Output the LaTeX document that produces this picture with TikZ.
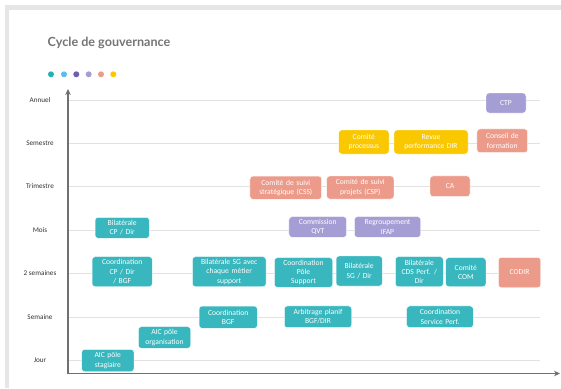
\documentclass[tikz,border=0pt]{standalone}
\usepackage{fontspec}
\setmainfont{Carlito}
\newfontfamily\titlefont{Lato}
\usetikzlibrary{arrows.meta}
\definecolor{frame}{HTML}{E6E6E6}
\definecolor{axisc}{HTML}{707070}
\definecolor{gridc}{HTML}{E2E2E2}
\definecolor{teal1}{HTML}{38B7BE}
\definecolor{salmon1}{HTML}{EC9B8A}
\definecolor{lav1}{HTML}{A59ED5}
\definecolor{yel1}{HTML}{FAC800}
\definecolor{dotteal}{HTML}{23B2B2}
\definecolor{dotblue}{HTML}{5BBDE8}
\definecolor{dotpurple}{HTML}{6F5DB0}
\definecolor{titlec}{HTML}{757575}
\definecolor{labc}{HTML}{333333}
\tikzset{
  box/.style={rounded corners=3pt, inner sep=0pt, align=center, text=white,
    font=\fontsize{7.6}{9.3}\selectfont, draw=white, line width=0.4pt},
  tbox/.style={box, fill=teal1},
  sbox/.style={box, fill=salmon1},
  lbox/.style={box, fill=lav1},
  ybox/.style={box, fill=yel1},
  rowlab/.style={font=\fontsize{7.2}{8}\selectfont, text=labc},
  gridline/.style={draw=gridc, line width=0.9pt},
  axisline/.style={draw=axisc, line width=1.8pt, -{Stealth[length=6pt,width=5.5pt]}},
  dotc/.style={circle, inner sep=0pt, minimum size=6pt}
}
\newcommand{\bx}[7]{\node[#1, minimum width=#5pt, minimum height=#6pt, text width=#5pt] (#2) at (#3,#4) {#7};}
\begin{document}
\begin{tikzpicture}[x=1pt,y=-1pt]
\useasboundingbox (0,0) rectangle (561,388);
% frame
\fill[frame] (5,5) rectangle (561,388);
\fill[white] (9,10) rectangle (561,388);
% title
\node[anchor=west, font=\titlefont\bfseries\fontsize{12.6}{14}\selectfont, text=titlec, inner sep=0pt] (title) at (47.5,43) {Cycle de gouvernance};
% dots
\node[dotc, fill=dotteal] (d1) at (51,74.3) {};
\node[dotc, fill=dotblue] (d2) at (64,74.3) {};
\node[dotc, fill=dotpurple] (d3) at (76.3,74.3) {};
\node[dotc, fill=lav1] (d4) at (88.7,74.3) {};
\node[dotc, fill=salmon1] (d5) at (101,74.3) {};
\node[dotc, fill=yel1] (d6) at (113.3,74.3) {};
% rows
\foreach \n/\y/\t in {r1/100/Annuel, r2/143/Semestre, r3/186.5/Trimestre, r4/230.5/Mois, r5/273.5/2 semaines, r6/317/Semaine, r7/360.5/Jour}{
  \coordinate (\n a) at (68,\y);
  \coordinate (\n b) at (540,\y);
  \draw[gridline] (\n a) -- (\n b);
  \node[rowlab] (\n lab) at (40,\y) {\t};
}
% axes
\coordinate (origin) at (68,373.5);
\coordinate (ytop) at (68,89);
\coordinate (xend) at (560,373.5);
\draw[axisline] ([yshift=-0.9pt]origin) -- (ytop);
\draw[axisline] ([xshift=-0.9pt]origin) -- (xend);
% boxes
\bx{lbox}{ctp}{506}{103}{40}{20}{CTP}
\bx{ybox}{cproc}{363.8}{142}{50.3}{24}{Comité\\processus}
\bx{ybox}{revue}{431}{142}{74}{24}{Revue\\performance DIR}
\bx{sbox}{conseil}{502.3}{140.8}{50.7}{23.7}{Conseil de\\formation}
\bx{sbox}{css}{285.8}{187.7}{71.7}{23.3}{Comité de suivi\\stratégique (CSS)}
\bx{sbox}{csp}{360.3}{187.5}{67.3}{23}{Comité de suivi\\projets (CSP)}
\bx{sbox}{ca}{450}{186.3}{40}{20.7}{CA}
\bx{tbox}{bcp}{122.2}{227.8}{54.3}{21}{Bilatérale\\CP / Dir}
\bx{lbox}{qvt}{317.8}{227}{57.7}{20.6}{Commission\\QVT}
\bx{lbox}{ifap}{387.5}{227}{66.4}{20.6}{Regroupement\\IFAP}
\bx{tbox}{ccp}{122.2}{271.7}{60.3}{30}{Coordination\\CP / Dir\\/ BGF}
\bx{tbox}{bsg}{229.2}{271.7}{73.7}{30}{Bilatérale SG avec\\chaque métier\\support}
\bx{tbox}{cps}{303.5}{272.5}{58.4}{29.6}{Coordination\\Pôle\\Support}
\bx{tbox}{bsgd}{359.2}{271}{46.3}{30}{Bilatérale\\SG / Dir}
\bx{tbox}{bcds}{419.3}{271.7}{48}{30}{Bilatérale\\CDS Perf. /\\Dir}
\bx{tbox}{ccom}{465.8}{272.2}{40.3}{29}{Comité\\COM}
\bx{sbox}{codir}{519.5}{272.5}{42.4}{30.4}{CODIR}
\bx{tbox}{cbgf}{228.2}{317.2}{58.3}{22.3}{Coordination\\BGF}
\bx{tbox}{arb}{318}{316.8}{67.4}{21.7}{Arbitrage planif\\BGF/DIR}
\bx{tbox}{csp2}{440}{316.8}{66.6}{21.7}{Coordination\\Service Perf.}
\bx{tbox}{aico}{164.5}{337.5}{52.4}{21.6}{AIC pôle\\organisation}
\bx{tbox}{aics}{107.8}{360.5}{52.3}{22.4}{AIC pôle\\stagiaire}
\end{tikzpicture}
\end{document}
